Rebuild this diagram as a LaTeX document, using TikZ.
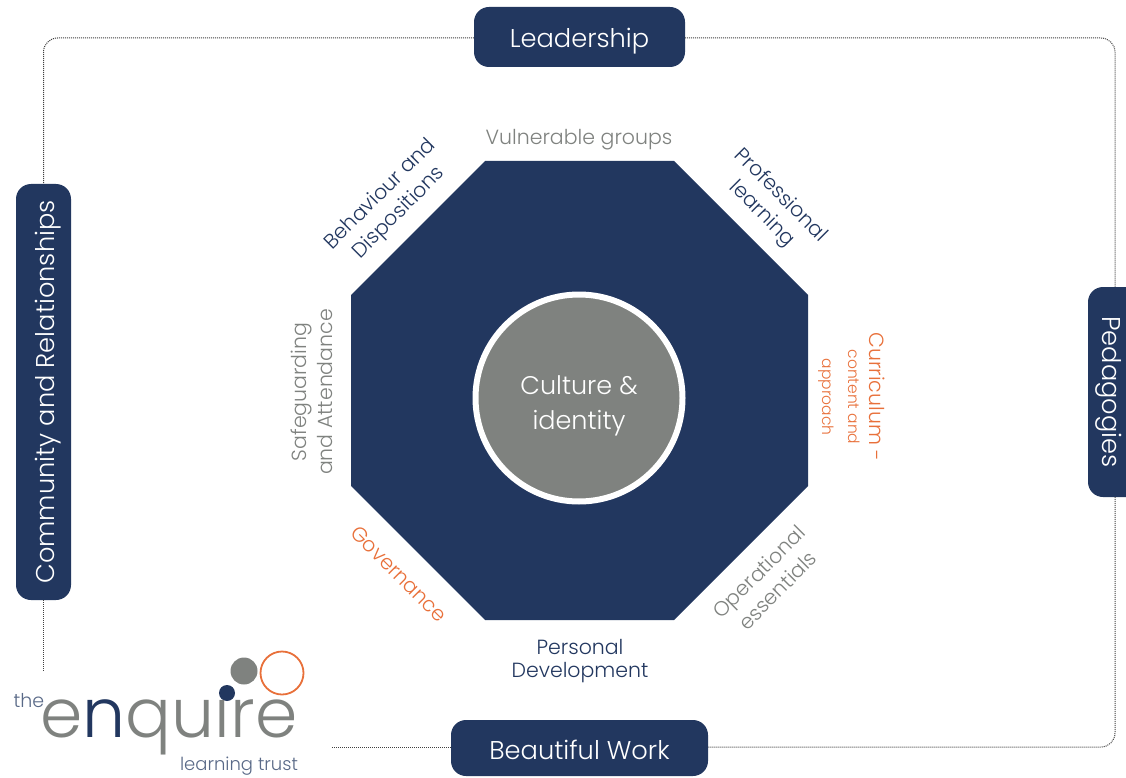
\documentclass[tikz,border=0pt]{standalone}
\usepackage{fontspec}
\setmainfont{Poppins Light}
\usetikzlibrary{calc}
\definecolor{navy}{HTML}{22375F}
\definecolor{slate}{HTML}{7F827F}
\definecolor{ember}{HTML}{E8703A}
\tikzset{
    pillar/.style={fill=navy,text=white,rounded corners=15pt,inner sep=0pt,text height=30pt,text depth=8pt,font=\fontsize{25.7}{30}\selectfont},
    frameline/.style={dash pattern=on 1pt off 1pt,line width=1pt,draw=black!75,rounded corners=14pt},
    theme/.style={align=center,inner sep=0pt,font=\fontsize{20.5}{26}\selectfont},
}

\begin{document}
\begin{tikzpicture}[x=1pt,y=-1pt]
    \useasboundingbox (0,0) rectangle (1126,778);
    % outer pillars
    \node[pillar,minimum width=211pt,minimum height=60pt] (leadership) at (579.5,37) {Leadership};
    \node[pillar,minimum width=257pt,minimum height=56pt] (work) at (579.5,748) {Beautiful Work};
    \node[pillar,minimum width=416pt,minimum height=55pt,rotate=90] (community) at (43.5,392) {Community and Relationships};
    \node[pillar,minimum width=210pt,minimum height=55pt,rotate=-90,text height=35pt] (pedagogies) at (1115.5,392) {Pedagogies};
    % frame
    \coordinate (logotop) at (43.5,671);
    \coordinate (logoright) at (331,747);
    \coordinate (cornerNW) at (43.5,38);
    \coordinate (cornerNE) at (1115,38);
    \coordinate (cornerSE) at (1115,747);
    \draw[frameline] (leadership.west |- cornerNW) -- (cornerNW) -- (community.east);
    \draw[frameline] (community.west) -- (logotop);
    \draw[frameline] (leadership.east |- cornerNE) -- (cornerNE) -- (cornerNE |- pedagogies.west);
    \draw[frameline] (cornerSE |- pedagogies.east) -- (cornerSE) -- (work.east |- cornerSE);
    \draw[frameline] (work.west |- logoright) -- (logoright);
    % octagon and hub
    \fill[navy] (485,161) -- (674,161) -- (808,295) -- (808,486) -- (674,620) -- (485,620) -- (351,486) -- (351,295) -- cycle;
    \node[circle,fill=slate,draw=white,line width=6pt,minimum size=207pt,inner sep=0pt] (hub) at (579,398) {};
    \node[align=center,text=white,inner sep=0pt,font=\fontsize{25.5}{35}\selectfont] (culture) at (579,406) {Culture \&\\identity};
    % themes
    \node[theme,text=slate] (vulnerable) at (579,140) {Vulnerable groups};
    \node[theme,text=navy,rotate=-45] (professional) at (771,205) {Professional\\learning};
    \node[theme,text=ember,rotate=-90] (curriculum) at (852,397) {\fontsize{20.5}{24}\selectfont Curriculum -\\[-5pt]\fontsize{15.5}{20}\selectfont content and\\\fontsize{15.5}{20}\selectfont approach};
    \node[theme,text=slate,rotate=45] (operational) at (768,581) {Operational\\essentials};
    \node[theme,text=navy,font=\fontsize{20.5}{23}\selectfont] (personal) at (580,661) {Personal\\Development};
    \node[theme,text=ember,rotate=-45] (governance) at (399,574) {Governance};
    \node[theme,text=slate,rotate=90] (safeguarding) at (312,392) {Safeguarding\\and Attendance};
    \node[theme,text=navy,rotate=45] (behaviour) at (390,204) {Behaviour and\\Dispositions};
    % logo
    \fill[slate] (244,671) circle (13.5);
    \draw[ember,line width=1.8pt] (282,673) circle (21.5);
    \fill[navy] (227,693) circle (8);
    \node[text=navy!75,inner sep=0pt,font=\fontsize{19}{24}\selectfont] (the) at (29,701) {the};
    \node[text=slate,inner sep=0pt,font=\fontsize{68}{80}\selectfont] (enquire) at (169,727) {e\textcolor{navy}{n}qu\i re};
    \node[text=navy!75,inner sep=0pt,font=\fontsize{18}{22}\selectfont] (trust) at (239,766) {learning trust};
\end{tikzpicture}
\end{document}
